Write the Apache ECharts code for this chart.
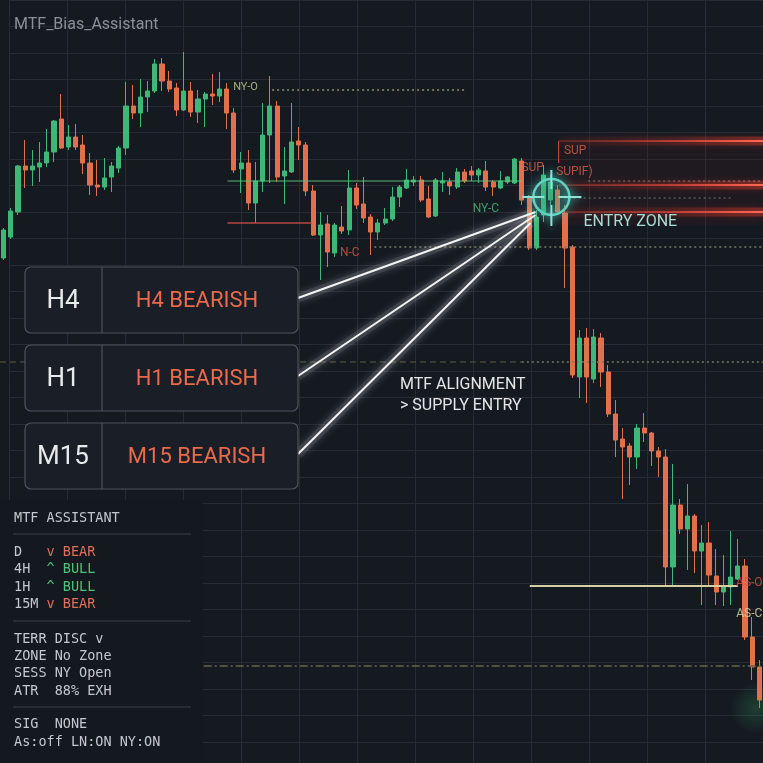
<!DOCTYPE html>
<html><head><meta charset="utf-8">
<style>html,body{margin:0;padding:0;background:#151a21;}#c{width:763px;height:763px;}</style>
<script src="https://cdn.jsdelivr.net/npm/echarts@6/dist/echarts.min.js"></script>
</head><body><div id="c"></div><script>
// ---- DATA ----
// candles: [open, close, low, high]
const candles = [
[742,770,740,772],[763,789,761,792],[788,834,785,835],[834,830,812,860],[830,834,814,850],
[833,837,818,858],[837,848,833,871],[848,879,838,880],[881,852,851,906],[853,863,850,875],
[863,853,850,876],[855,837,826,865],[837,815,805,847],[815,813,804,840],[813,822,810,842],
[823,834,808,838],[832,852,827,854],[852,894,845,918],[894,887,881,915],[887,903,873,921],
[903,909,888,919],[909,936,907,941],[936,919,909,942],[919,911,908,929],[912,890,884,917],
[890,909,889,948],[909,888,883,918],[888,901,877,910],[901,906,873,908],[906,904,895,926],
[904,911,898,928],[911,887,871,917],[887,830,827,892],[831,837,807,848],[837,797,790,850],
[797,819,777,838],[819,865,808,897],[865,894,817,924],[894,823,818,899],[824,829,796,853],
[828,858,827,897],[859,855,840,873],[855,809,804,858],[809,765,764,815],[765,775,720,788],
[776,748,733,785],[747,775,743,777],[773,769,766,794],[770,812,765,830],[812,795,791,817],
[796,782,777,823],[783,768,745,786],[768,777,760,781],[777,781,775,792],[781,803,779,813],
[803,813,793,815],[812,820,811,831],[818,820,814,824],[820,800,798,824],[801,783,782,814],
[784,820,783,822],[817,819,808,828],[818,814,805,822],[813,828,811,832],[828,819,817,831],
[829,825,819,834],[825,830,817,832],[829,813,809,839],[818,813,804,820],[812,819,811,829],
[818,823,816,824],[817,841,816,842],[839,800,795,842],[802,752,750,805],[752,783,750,790],
[785,825,778,835],[800,818,795,825],[810,788,785,815],[787,752,712,795],[753,625,622,755],
[623,662,602,670],[662,623,597,672],[621,663,617,671],[662,628,613,667],[628,586,583,635],
[586,560,543,600],[561,553,501,572],[554,543,515,557],[543,572,531,576],[572,567,558,587],
[567,549,534,568],[549,543,523,553],[543,433,415,551],[433,495,415,536],[495,471,466,501],
[471,484,430,516],[484,449,427,486],[449,457,395,475],[457,425,415,478],[424,408,395,451],
[408,413,394,445],[413,423,395,469],[421,434,420,461],[434,363,360,441],[363,333,320,383],
[333,300,292,340]
];
const categories = candles.map((c, i) => 'B' + (i + 1));

// horizontal levels (price, candle-index span)
const levelNames  = ['nyOpen','nyMid','redSweep','eqDotted','supTop','supMid','supLow','entryTop','entryMid','halfDash','halfDot','asLine','lowDash'];
const levelPrices = [910, 819, 777, 753, 859, 815, 788, 819, 802, 638, 638, 414, 334];
const levelFrom   = [37.3, 31.1, 31.1, 51.5, 77.1, 77.1, 77.1, 81.2, 78.5, -0.5, 72, 73.1, 27.8];
const levelTo     = [64.2, 72, 42.8, 105.5, 105.5, 105.5, 105.5, 105.5, 101, 72, 105.5, 102, 105.5];

// text labels on chart
const labelTexts  = ['NY-O', 'N-C', 'NY-C', 'SUP', 'SUP', 'SUPIF)', 'AS-C', 'AS-O'];
const labelIdx    = [33.6, 48.1, 67, 79.4, 73.5, 79.3, 103.6, 103.6];
const labelPrices = [913, 747, 791, 849, 832, 828, 386, 417];

// supply zone
const supplyZone = { from: 77.1, to: 105.5, top: 859, bottom: 775 };
const entryPoint = [76.1, 803];
const rayTargets = [[73.9, 788], [73.9, 785], [73.2, 777]];

// panels
const panelTf   = ['H4', 'H1', 'M15'];
const panelBias = ['H4 BEARISH', 'H1 BEARISH', 'M15 BEARISH'];

// info box lines: [left text, colored text, color key]
const infoTitle = 'MTF ASSISTANT';
const infoBias  = [['D   ', 'v BEAR', 'bear'], ['4H  ', '^ BULL', 'bull'], ['1H  ', '^ BULL', 'bull'], ['15M ', 'v BEAR', 'bear']];
const infoState = ['TERR DISC v', 'ZONE No Zone', 'SESS NY Open', 'ATR  88% EXH'];
const infoSig   = ['SIG  NONE', 'As:off LN:ON NY:ON'];

// ---- STYLE ----
const BG = '#151a21', GRIDC = '#262b34';
const UP = '#3fb777', DOWN = '#e3704c';
const SANS = 'Roboto, "Noto Sans", sans-serif';
const MONO = '"DejaVu Sans Mono", "Liberation Mono", monospace';
const redCore = () => new echarts.graphic.LinearGradient(0, 0, 1, 0, [
  {offset: 0, color: 'rgba(190,60,50,0.3)'},
  {offset: 0.5, color: 'rgba(225,70,55,0.65)'},
  {offset: 1, color: '#ff6a58'}]);
const redHalo = () => new echarts.graphic.LinearGradient(0, 0, 1, 0, [
  {offset: 0, color: 'rgba(230,60,45,0.02)'},
  {offset: 0.5, color: 'rgba(240,60,45,0.12)'},
  {offset: 1, color: 'rgba(255,70,50,0.35)'}]);
const supStyle = {width: 2, type: 'solid', glow: true};
const levelStyle = {
  nyOpen:   {color: '#8f8f74', width: 1.5, type: [2, 3]},
  nyMid:    {color: 'rgba(95,200,125,0.9)', width: 1, type: 'solid'},
  redSweep: {color: '#b9473f', width: 1.6, type: 'solid'},
  eqDotted: {color: '#7a7a6a', width: 1.5, type: [2, 3]},
  supTop:   supStyle,
  supMid:   supStyle,
  supLow:   supStyle,
  entryTop: {color: 'rgba(190,190,190,0.55)', width: 1.2, type: [2, 3]},
  entryMid: {color: 'rgba(190,190,190,0.55)', width: 1.2, type: [2, 3]},
  halfDash: {color: '#5f5d45', width: 1.2, type: [6, 4]},
  halfDot:  {color: '#77776a', width: 1.5, type: [2, 3]},
  asLine:   {color: '#d6cfa2', width: 2, type: 'solid'},
  lowDash:  {color: '#66644f', width: 1.5, type: [8, 3, 2, 3]}
};
const labelStyle = [
  {color: '#c9d48c', fontSize: 11},
  {color: '#d45a45', fontSize: 12},
  {color: '#4fb878', fontSize: 12},
  {color: '#d9604e', fontSize: 12},
  {color: '#e0624b', fontSize: 12},
  {color: '#d9604e', fontSize: 12},
  {color: '#e8dca4', fontSize: 12},
  {color: '#d9503e', fontSize: 12}
];

const series = [{
  type: 'candlestick', xAxisIndex: 1, yAxisIndex: 1, data: candles, barWidth: '64%',
  itemStyle: {color: UP, color0: DOWN, borderColor: UP, borderColor0: DOWN, borderWidth: 1},
  z: 3
}];
levelNames.forEach((n, k) => {
  const s = levelStyle[n];
  const d = [[levelFrom[k], levelPrices[k]], [levelTo[k], levelPrices[k]]];
  if (s.glow) {
    series.push({type: 'line', xAxisIndex: 2, yAxisIndex: 1, symbol: 'none', silent: true, z: 4, data: d,
      lineStyle: {color: redHalo(), width: 9}});
    series.push({type: 'line', xAxisIndex: 2, yAxisIndex: 1, symbol: 'none', silent: true, z: 5, data: d,
      lineStyle: {color: redCore(), width: 2, shadowBlur: 8, shadowColor: 'rgba(255,50,30,0.8)'}});
  } else {
    series.push({type: 'line', xAxisIndex: 2, yAxisIndex: 1, symbol: 'none', silent: true, z: 5, data: d,
      lineStyle: {color: s.color, width: s.width, type: s.type}});
  }
});
// supply zone box + left edge
series.push({
  type: 'line', xAxisIndex: 2, yAxisIndex: 1, symbol: 'none', silent: true, z: 4,
  data: [[supplyZone.from, supplyZone.top], [supplyZone.from, 837]],
  lineStyle: {color: '#b8443a', width: 1.2},
  markArea: {silent: true, itemStyle: {color: 'rgba(150,35,30,0.07)'},
    data: [[{coord: [supplyZone.from, supplyZone.top]}, {coord: [supplyZone.to, supplyZone.bottom]}]]}
});
series.push({
  type: 'scatter', xAxisIndex: 2, yAxisIndex: 1, symbolSize: 0, silent: true, z: 6,
  data: labelTexts.map((t, k) => ({
    value: [labelIdx[k], labelPrices[k]], name: t,
    label: {show: true, position: 'inside', formatter: t, color: labelStyle[k].color,
      fontSize: labelStyle[k].fontSize, fontFamily: SANS}
  }))
});

const hideAx = {axisLine: {show: false}, axisTick: {show: false}, axisLabel: {show: false}};
const option = {
  backgroundColor: BG,
  animation: false,
  grid: [
    {left: 9, right: 0, top: 0, bottom: 0},
    {left: -1.6, right: -2.6, top: 0, bottom: 0}
  ],
  xAxis: [
    Object.assign({type: 'value', gridIndex: 0, min: 0, max: 754, interval: 58,
      splitLine: {show: true, lineStyle: {color: GRIDC, width: 1}}}, hideAx),
    {type: 'category', gridIndex: 1, data: categories, boundaryGap: true, show: false},
    {type: 'value', gridIndex: 1, min: -0.5, max: 105.5, show: false}
  ],
  yAxis: [
    Object.assign({type: 'value', gridIndex: 0, inverse: true, min: 0, max: 763, interval: 26.5,
      splitLine: {show: true, lineStyle: {color: GRIDC, width: 1}}}, hideAx),
    {type: 'value', gridIndex: 1, min: 237, max: 1000, show: false}
  ],
  series: series
};

const chart = echarts.init(document.getElementById('c'), null, {renderer: 'canvas'});
chart.setOption(option);
const labelSeriesIndex = series.length - 1;
const toPx = (v) => chart.convertToPixel({seriesIndex: labelSeriesIndex}, v);

// ---- DECORATIONS ----
const g = [];
g.push({type: 'text', x: 14, y: 25, z: 100, style: {text: 'MTF_Bias_Assistant', fill: '#8b9098', font: '16px ' + SANS, align: 'left', verticalAlign: 'middle'}});

const panelTop = [267, 345, 423], panelH = 66, panelX = 25, panelW = 273, panelDiv = 102;
// rays
rayTargets.forEach((t, k) => {
  const p = toPx(t);
  g.push({type: 'line', z: 90, shape: {x1: panelX + panelW, y1: panelTop[k] + 31, x2: p[0], y2: p[1]},
    style: {stroke: 'rgba(200,200,210,0.12)', lineWidth: 9}});
  g.push({type: 'line', z: 91, shape: {x1: panelX + panelW, y1: panelTop[k] + 31, x2: p[0], y2: p[1]},
    style: {stroke: '#f4f4f4', lineWidth: 2, shadowBlur: 10, shadowColor: 'rgba(255,255,255,0.7)'}});
});
// panels
panelTf.forEach((tf, k) => {
  const y = panelTop[k];
  g.push({type: 'rect', z: 95, shape: {x: panelX, y: y, width: panelW, height: panelH, r: 6},
    style: {fill: '#1a1e26', stroke: '#4d525b', lineWidth: 1.2}});
  g.push({type: 'line', z: 96, shape: {x1: panelDiv, y1: y, x2: panelDiv, y2: y + panelH},
    style: {stroke: '#4d525b', lineWidth: 1.2}});
  g.push({type: 'text', z: 97, x: 63, y: y + panelH / 2 + 1,
    style: {text: tf, fill: '#e9eaec', font: '26px ' + SANS, align: 'center', verticalAlign: 'middle'}});
  g.push({type: 'text', z: 97, x: 197, y: y + panelH / 2 + 1,
    style: {text: panelBias[k], fill: '#ea6a4b', font: '22px ' + SANS, align: 'center', verticalAlign: 'middle',
      shadowBlur: 8, shadowColor: 'rgba(255,80,50,0.6)'}});
});
// alignment text
g.push({type: 'text', z: 97, x: 400, y: 385, style: {text: 'MTF ALIGNMENT', fill: '#e6e6e6', font: '16px ' + SANS, align: 'left', verticalAlign: 'middle'}});
g.push({type: 'text', z: 97, x: 400, y: 406, style: {text: '> SUPPLY ENTRY', fill: '#e6e6e6', font: '16px ' + SANS, align: 'left', verticalAlign: 'middle'}});

// crosshair
const c = toPx(entryPoint);
const teal = '#62d2c2', tealGlow = {shadowBlur: 10, shadowColor: 'rgba(80,230,210,0.9)'};
g.push({type: 'circle', z: 98, shape: {cx: c[0], cy: c[1], r: 18}, style: Object.assign({fill: 'rgba(40,90,90,0.15)', stroke: teal, lineWidth: 2.5}, tealGlow)});
[[c[0] - 29, c[1], c[0] - 7, c[1]], [c[0] + 7, c[1], c[0] + 30, c[1]], [c[0], c[1] - 27, c[0], c[1] - 8], [c[0], c[1] + 8, c[0], c[1] + 29]].forEach(s => {
  g.push({type: 'line', z: 99, shape: {x1: s[0], y1: s[1], x2: s[2], y2: s[3]}, style: Object.assign({stroke: '#8ee3d6', lineWidth: 2}, tealGlow)});
});
g.push({type: 'text', z: 97, x: c[0] + 32, y: c[1] + 25, style: {text: 'ENTRY ZONE', fill: '#a8ddd4', font: '16px ' + SANS, align: 'left', verticalAlign: 'middle'}});

// green glow bottom right
g.push({type: 'circle', z: 1, shape: {cx: 756, cy: 708, r: 26},
  style: {fill: new echarts.graphic.RadialGradient(0.5, 0.5, 0.5, [{offset: 0, color: 'rgba(60,200,110,0.22)'}, {offset: 1, color: 'rgba(60,200,110,0)'}])}});

// info panel
g.push({type: 'rect', z: 95, shape: {x: 0, y: 500, width: 203, height: 263}, style: {fill: '#14181f'}});
[534, 621, 707].forEach(y => g.push({type: 'line', z: 96, shape: {x1: 13, y1: y, x2: 191, y2: y}, style: {stroke: '#3a3f48', lineWidth: 1.2}}));
const monoFont = '13.5px ' + MONO, cw = 13.5 * 0.602, baseC = '#c4c8ce';
const colorOf = {bear: '#dc6f5e', bull: '#4fc27e'};
const infoText = (txt, y, col, x) => g.push({type: 'text', z: 97, x: x || 14, y: y, style: {text: txt, fill: col || baseC, font: monoFont, align: 'left', verticalAlign: 'middle'}});
infoText(infoTitle, 518);
const biasY = [552, 569, 587, 604];
infoBias.forEach((r, k) => { infoText(r[0], biasY[k]); infoText(r[1], biasY[k], colorOf[r[2]], 14 + r[0].length * cw); });
[639, 656, 673, 691].forEach((y, k) => infoText(infoState[k], y));
[724, 742].forEach((y, k) => infoText(infoSig[k], y));

chart.setOption({graphic: {elements: g}});
</script></body></html>
